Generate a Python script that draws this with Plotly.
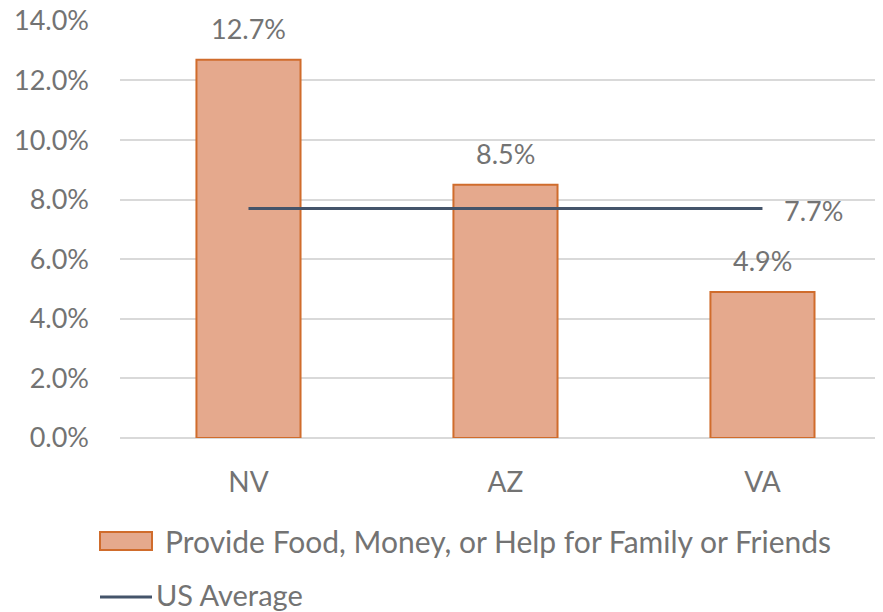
import plotly.graph_objects as go

categories = ["NV", "AZ", "VA"]
values = [12.7, 8.5, 4.9]
us_average = [7.7, 7.7, 7.7]
y_ticks = [0, 2, 4, 6, 8, 10, 12, 14]
bar_name = "Provide Food, Money, or Help for Family or Friends"
line_name = "US Average"

font = "Lato, 'Open Sans', sans-serif"
grey = "#737373"
bar_fill = "#E5A98D"
bar_edge = "#D06C2C"
line_color = "#44546A"

# the page has an 8px body margin, so the figure is 8px smaller and offset
OFF = 8
W, H = 883 - OFF, 612 - OFF
Y_TOP = 14.03
ml, mr, mt, mb = 120 - OFF, 0, 21 - OFF - 1, 174
pw, ph = W - ml - mr, H - mt - mb

fig = go.Figure()
fig.add_trace(go.Bar(
    x=categories, y=values, name=bar_name,
    width=0.405,
    marker=dict(color=bar_fill, line=dict(color=bar_edge, width=2)),
))
fig.add_trace(go.Scatter(
    x=categories, y=us_average, name=line_name, mode="lines",
    line=dict(color=line_color, width=3),
))

annotations = []
for c, v in zip(categories, values):
    annotations.append(dict(x=c, y=v, text=f"{v:.1f}%", showarrow=False,
                            yanchor="bottom", yshift=13,
                            font=dict(size=27, color=grey, family=font)))
annotations.append(dict(x=categories[-1], y=us_average[-1], text=f"{us_average[-1]:.1f}%",
                        showarrow=False, xanchor="left", yanchor="middle",
                        xshift=20, yshift=-2,
                        font=dict(size=27, color=grey, family=font)))

def px(xp):
    return (xp - OFF - ml) / pw
def py(yp):
    return (H - mb - (yp - OFF)) / ph

shapes = [
    dict(type="rect", xref="paper", yref="paper",
         x0=px(100), x1=px(152), y0=py(550), y1=py(532),
         fillcolor=bar_fill, line=dict(color=bar_edge, width=2)),
    dict(type="line", xref="paper", yref="paper",
         x0=px(100), x1=px(152), y0=py(597), y1=py(597),
         line=dict(color=line_color, width=3)),
]
annotations.append(dict(xref="paper", yref="paper", x=px(163), y=py(541),
                        xanchor="left", yanchor="middle", showarrow=False,
                        text=bar_name, font=dict(size=30, color=grey, family=font)))
annotations.append(dict(xref="paper", yref="paper", x=px(154), y=py(594),
                        xanchor="left", yanchor="middle", showarrow=False,
                        text=line_name, font=dict(size=29, color=grey, family=font)))

fig.update_layout(
    width=W, height=H,
    margin=dict(l=ml, r=mr, t=mt, b=mb, autoexpand=False),
    paper_bgcolor="white", plot_bgcolor="white",
    font=dict(family=font, color=grey, size=27),
    showlegend=False,
    annotations=annotations,
    shapes=shapes,
    xaxis=dict(range=[-0.5, 2.469], showgrid=False, showline=False, ticks="",
               automargin=False,
               tickfont=dict(size=28, color=grey), ticklabelstandoff=25),
    yaxis=dict(range=[0, Y_TOP], tickvals=y_ticks, ticktext=[f"{v:.1f}%" for v in y_ticks],
               automargin=False, ticklabeloverflow="allow",
               showgrid=True, gridcolor="#D9D9D9", gridwidth=1.5, zeroline=True,
               zerolinecolor="#D9D9D9", zerolinewidth=1.5,
               tickfont=dict(size=27, color=grey), ticklabelstandoff=30),
)
fig.write_html("out.html")
